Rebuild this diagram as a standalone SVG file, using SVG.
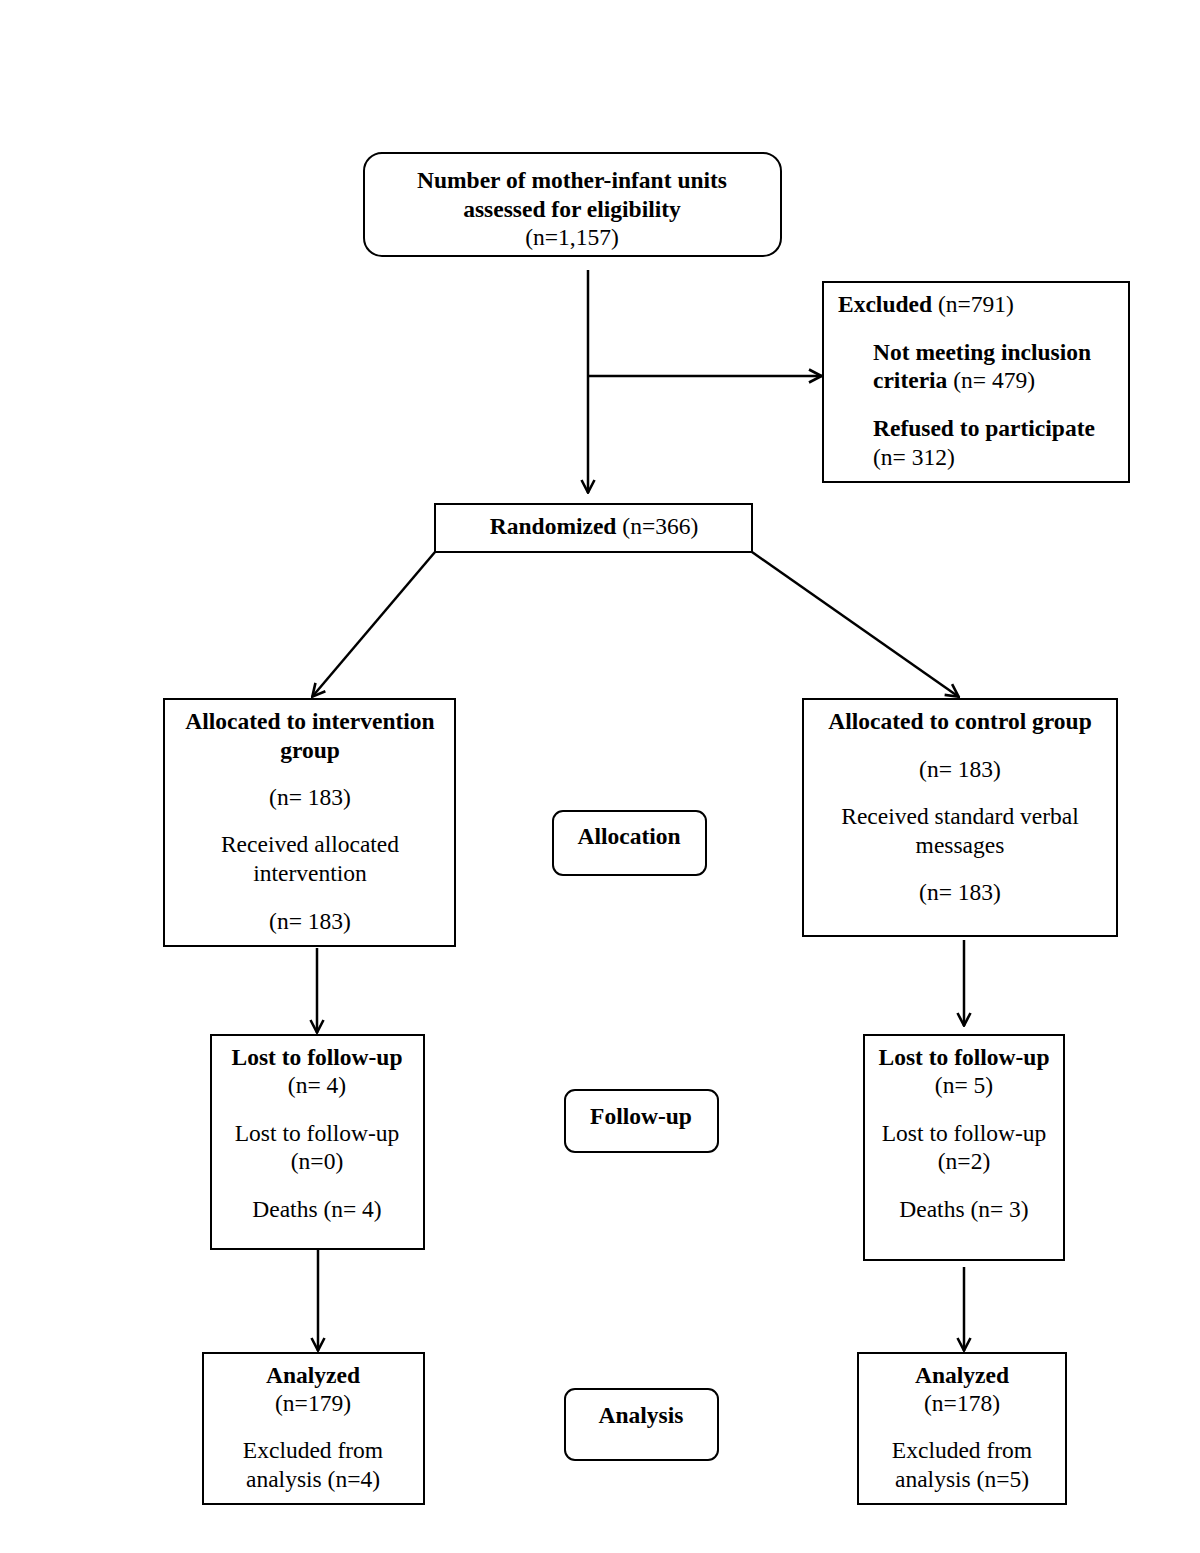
<svg xmlns="http://www.w3.org/2000/svg" width="1200" height="1553" viewBox="0 0 1200 1553">
<style>
.box{fill:#fff;stroke:#000;stroke-width:2}
.ln{fill:none;stroke:#000;stroke-width:2.5}
text{font-family:"Liberation Serif","Times New Roman",serif;font-size:23.5px;fill:#000}
.c{text-anchor:middle}
.b{font-weight:bold}
</style>
<defs>
<marker id="ah" viewBox="0 0 16 16" refX="15" refY="8" markerWidth="16" markerHeight="16" markerUnits="userSpaceOnUse" orient="auto">
<path d="M2,1.5 L14.5,8 L2,14.5" fill="none" stroke="#000" stroke-width="2.6"/>
</marker>
</defs>
<rect width="1200" height="1553" fill="#fff"/>
<g id="connectors">
<line class="ln" x1="588" y1="270" x2="588" y2="493" marker-end="url(#ah)"/>
<line class="ln" x1="588" y1="376" x2="822" y2="376" marker-end="url(#ah)"/>
<line class="ln" x1="435" y1="552" x2="312" y2="697" marker-end="url(#ah)"/>
<line class="ln" x1="752" y1="552" x2="959" y2="697" marker-end="url(#ah)"/>
<line class="ln" x1="317" y1="948" x2="317" y2="1033" marker-end="url(#ah)"/>
<line class="ln" x1="964" y1="940" x2="964" y2="1026" marker-end="url(#ah)"/>
<line class="ln" x1="318" y1="1250" x2="318" y2="1351" marker-end="url(#ah)"/>
<line class="ln" x1="964" y1="1267" x2="964" y2="1351" marker-end="url(#ah)"/>
</g>
<g id="assessed">
<rect class="box" x="364" y="153" width="417" height="103" rx="18"/>
<text class="c b" x="572" y="188">Number of mother-infant units</text>
<text class="c b" x="572" y="217">assessed for eligibility</text>
<text class="c" x="572" y="245">(n=1,157)</text>
</g>
<g id="excluded">
<rect class="box" x="823" y="282" width="306" height="200"/>
<text x="838" y="312"><tspan class="b">Excluded</tspan> (n=791)</text>
<text class="b" x="873" y="360">Not meeting inclusion</text>
<text x="873" y="388"><tspan class="b">criteria</tspan> (n= 479)</text>
<text class="b" x="873" y="436">Refused to participate</text>
<text x="873" y="465">(n= 312)</text>
</g>
<g id="randomized">
<rect class="box" x="435" y="504" width="317" height="48"/>
<text class="c" x="594" y="534"><tspan class="b">Randomized</tspan> (n=366)</text>
</g>
<g id="alloc-intervention">
<rect class="box" x="164" y="699" width="291" height="247"/>
<text class="c b" x="310" y="729">Allocated to intervention</text>
<text class="c b" x="310" y="758">group</text>
<text class="c" x="310" y="805">(n= 183)</text>
<text class="c" x="310" y="852">Received allocated</text>
<text class="c" x="310" y="881">intervention</text>
<text class="c" x="310" y="929">(n= 183)</text>
</g>
<g id="alloc-control">
<rect class="box" x="803" y="699" width="314" height="237"/>
<text class="c b" x="960" y="729">Allocated to control group</text>
<text class="c" x="960" y="777">(n= 183)</text>
<text class="c" x="960" y="824">Received standard verbal</text>
<text class="c" x="960" y="853">messages</text>
<text class="c" x="960" y="900">(n= 183)</text>
</g>
<g id="allocation-label">
<rect class="box" x="553" y="811" width="153" height="64" rx="10"/>
<text class="c b" x="629" y="844">Allocation</text>
</g>
<g id="followup-intervention">
<rect class="box" x="211" y="1035" width="213" height="214"/>
<text class="c b" x="317" y="1065">Lost to follow-up</text>
<text class="c" x="317" y="1093">(n= 4)</text>
<text class="c" x="317" y="1141">Lost to follow-up</text>
<text class="c" x="317" y="1169">(n=0)</text>
<text class="c" x="317" y="1217">Deaths (n= 4)</text>
</g>
<g id="followup-control">
<rect class="box" x="864" y="1035" width="200" height="225"/>
<text class="c b" x="964" y="1065">Lost to follow-up</text>
<text class="c" x="964" y="1093">(n= 5)</text>
<text class="c" x="964" y="1141">Lost to follow-up</text>
<text class="c" x="964" y="1169">(n=2)</text>
<text class="c" x="964" y="1217">Deaths (n= 3)</text>
</g>
<g id="followup-label">
<rect class="box" x="565" y="1090" width="153" height="62" rx="10"/>
<text class="c b" x="641" y="1124">Follow-up</text>
</g>
<g id="analysis-intervention">
<rect class="box" x="203" y="1353" width="221" height="151"/>
<text class="c b" x="313" y="1383">Analyzed</text>
<text class="c" x="313" y="1411">(n=179)</text>
<text class="c" x="313" y="1458">Excluded from</text>
<text class="c" x="313" y="1487">analysis (n=4)</text>
</g>
<g id="analysis-control">
<rect class="box" x="858" y="1353" width="208" height="151"/>
<text class="c b" x="962" y="1383">Analyzed</text>
<text class="c" x="962" y="1411">(n=178)</text>
<text class="c" x="962" y="1458">Excluded from</text>
<text class="c" x="962" y="1487">analysis (n=5)</text>
</g>
<g id="analysis-label">
<rect class="box" x="565" y="1389" width="153" height="71" rx="10"/>
<text class="c b" x="641" y="1423">Analysis</text>
</g>
</svg>
